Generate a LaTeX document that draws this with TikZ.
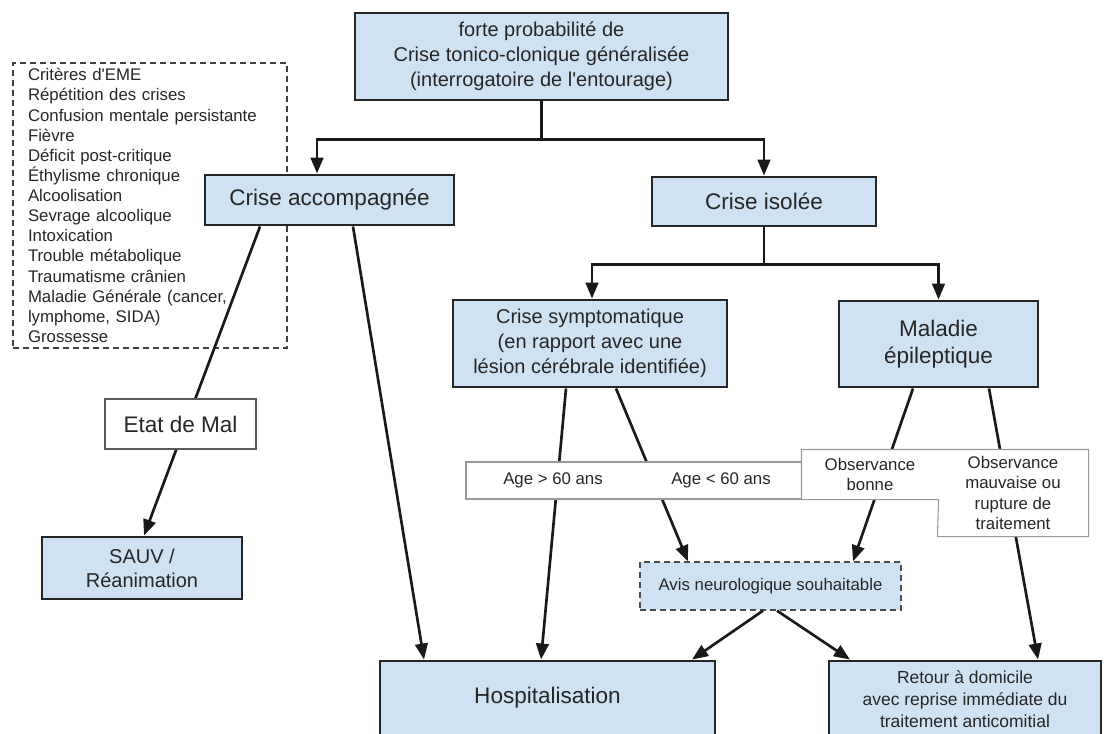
\documentclass[tikz,border=0pt]{standalone}
\usepackage{fontspec}
\setmainfont{Liberation Sans}
\usetikzlibrary{arrows.meta,calc}
\definecolor{bleu}{HTML}{CFE2F3}

\begin{document}
\begin{tikzpicture}[x=0.75pt,y=-0.75pt,
  boite/.style={draw=black!85, line width=2.2pt, fill=bleu, text=black!85, inner sep=0pt, align=center},
  etiq/.style={draw=black!40, line width=0.8pt, fill=white, text=black!85, inner sep=0pt, align=center},
  fleche/.style={-{Stealth[length=12pt, width=9.5pt, inset=0pt]}, line width=2pt, black!90},
  grand/.style={font=\fontsize{16.9}{20}\selectfont},
  moyen/.style={font=\fontsize{15}{18.75}\selectfont},
  petit/.style={font=\fontsize{12.6}{15.1}\selectfont}]
  \def\u{0.75pt}

  % Fixed bounding box
  \path[use as bounding box] (0,0) rectangle (1105,733);

  % Dashed list of criteria
  \node[draw=black!75, line width=1pt, dash pattern=on 4.5pt off 3pt, text=black!85, petit,
        align=left, text width=183pt, inner xsep=11.25pt, inner ysep=0pt, minimum height=285*\u] (criteres) at (150,205.5)
    {Critères d\textquotesingle EME\\Répétition des crises\\Confusion mentale persistante\\Fièvre\\Déficit post-critique\\Éthylisme chronique\\Alcoolisation\\Sevrage alcoolique\\Intoxication\\Trouble métabolique\\Traumatisme crânien\\Maladie Générale (cancer,\\lymphome, SIDA)\\Grossesse};

  % Main boxes
  \node[boite, moyen, minimum width=373*\u, minimum height=87*\u] (forte) at (541.5,56.5)
    {forte probabilité de\\Crise tonico-clonique généralisée\\(interrogatoire de l\textquotesingle entourage)};
  \node[boite, grand, minimum width=249*\u, minimum height=50*\u] (accomp) at (329.5,200) {Crise accompagnée};
  \node[boite, grand, minimum width=224*\u, minimum height=49*\u] (isolee) at (764,201.5) {Crise isolée};
  \node[boite, moyen, minimum width=274*\u, minimum height=87*\u] (sympto) at (590,343.5)
    {Crise symptomatique\\(en rapport avec une\\lésion cérébrale identifiée)};
  \node[boite, grand, minimum width=199*\u, minimum height=86*\u] (epilep) at (938.5,344) {Maladie\\épileptique};
  \node[boite, font=\fontsize{15}{18}\selectfont, minimum width=200*\u, minimum height=62*\u] (sauv) at (142,568) {SAUV /\\Réanimation};
  \node[boite, draw=black!70, line width=1pt, dash pattern=on 4.5pt off 3pt, petit,
        minimum width=261*\u, minimum height=48*\u] (avis) at (770.5,586) {Avis neurologique souhaitable};
  \node[boite, grand, minimum width=335*\u, minimum height=74*\u] (hospit) at (547.5,698) {Hospitalisation};
  \node[boite, font=\fontsize{13.1}{16.3}\selectfont, minimum width=272*\u, minimum height=76*\u] (retour) at (965,699)
    {Retour à domicile\\avec reprise immédiate du\\traitement anticomitial};

  % Tree branches
  \draw[fleche] (forte.south) -- ++(0,38) -| ($(accomp.north)+(-12.5,0)$);
  \draw[fleche] (forte.south) -- ++(0,38) -| (isolee.north);
  \draw[fleche] (isolee.south) -- ++(0,37) -| ($(sympto.north)+(2,0)$);
  \draw[fleche] (isolee.south) -- ++(0,37) -| (epilep.north);

  % Oblique arrows
  \draw[fleche] ($(accomp.south)+(-69.5,0)$) -- ($(sauv.north)+(2,0)$);
  \draw[fleche] ($(accomp.south)+(23.5,0)$) -- ($(hospit.north)+(-123.5,0)$);
  \draw[fleche] ($(sympto.south)+(-24,0)$) -- ($(hospit.north)+(-6.5,0)$);
  \draw[fleche] ($(sympto.south)+(26,0)$) -- ($(avis.north)+(-82.5,0)$);
  \draw[fleche] ($(epilep.south)+(-25.5,0)$) -- ($(avis.north)+(82.5,0)$);
  \draw[fleche] ($(epilep.south)+(50.5,0)$) -- ($(retour.north)+(73,0)$);
  \draw[fleche] ($(avis.south)+(-7.5,0)$) -- ($(hospit.north)+(144.5,0)$);
  \draw[fleche] ($(avis.south)+(6.5,0)$) -- ($(retour.north)+(-115,0)$);

  % Labels on the arrows
  \node[etiq, draw=black!65, line width=1pt, grand, minimum width=151*\u, minimum height=50*\u] (etat) at (180.5,424) {Etat de Mal};
  \node[etiq, minimum width=472*\u, minimum height=37*\u] (agebox) at (702,480.5) {};
  \node[petit, text=black!85] (agesup) at (553,480.5) {Age > 60 ans};
  \node[petit, text=black!85] (ageinf) at (721,480.5) {Age < 60 ans};
  \node[etiq, draw=none, petit, minimum width=136*\u, minimum height=49*\u] (obsbon) at (870,474.5) {Observance\\bonne};
  \node[etiq, draw=none, petit, minimum width=150*\u, minimum height=86*\u] (obsmauv) at (1013,493)
    {Observance\\mauvaise ou\\rupture de\\traitement};
  \draw[draw=black!40, line width=0.8pt] (obsbon.north west) -- (obsmauv.north east) -- (obsmauv.south east)
    -- (obsmauv.south west) -- (obsbon.south east) -- (obsbon.south west) -- cycle;

\end{tikzpicture}
\end{document}
